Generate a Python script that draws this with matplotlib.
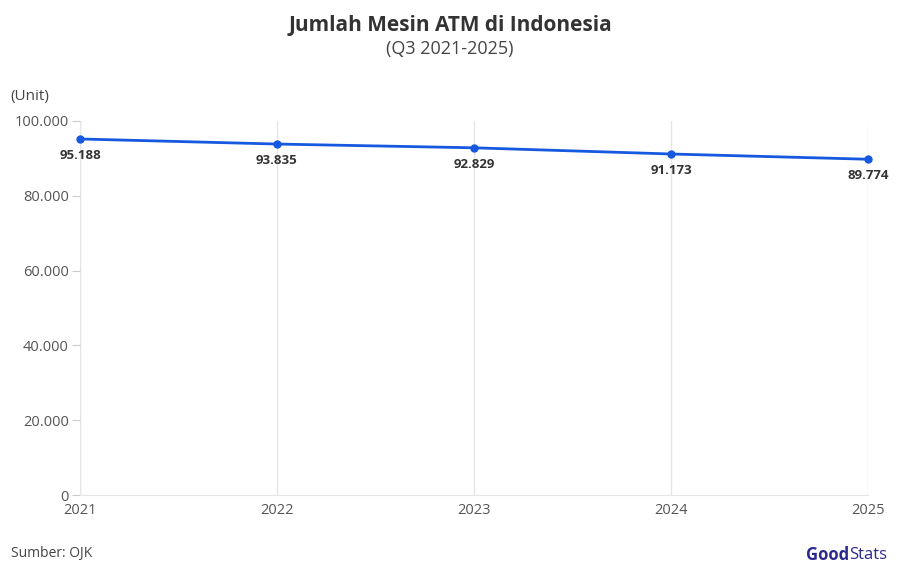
import matplotlib
matplotlib.use("Agg")
import matplotlib.pyplot as plt
from matplotlib.ticker import FuncFormatter

plt.rcParams['font.family'] = ['Open Sans', 'DejaVu Sans']

years = [2021, 2022, 2023, 2024, 2025]
atm = [95188, 93835, 92829, 91173, 89774]
yticks = [0, 20000, 40000, 60000, 80000, 100000]

def fmt(v):
    return f"{int(v):,}".replace(",", ".")

fig = plt.figure(figsize=(9, 5.75), dpi=100)
ax = fig.add_axes([0.0889, 0.1391, 0.8755, 0.6505])
ax.plot(years, atm, color='#1658e0', lw=2, marker='o', ms=5, zorder=3, clip_on=False)
for x, y in zip(years, atm):
    ax.annotate(fmt(y), (x, y), xytext=(0, -7), textcoords='offset points',
                ha='center', va='top', fontsize=9.5, fontweight='bold', color='#333333')
ax.set_xlim(2021, 2025)
ax.set_ylim(0, 100000)
ax.set_xticks(years)
ax.set_yticks(yticks)
ax.yaxis.set_major_formatter(FuncFormatter(lambda v, p: fmt(v)))
ax.grid(axis='x', color='#e6e6e6', lw=1)
ax.grid(axis='y', visible=False)
for s in ['top', 'right', 'left']:
    ax.spines[s].set_visible(False)
ax.spines['bottom'].set_color('#e6e6e6')
ax.tick_params(axis='y', length=6, color='#cccccc', labelsize=10.5, labelcolor='#555555', pad=2)
ax.tick_params(axis='x', length=0, labelsize=10.5, labelcolor='#555555', pad=6)
ax.axvline(2021, color='#e6e6e6', lw=1, zorder=0)

fig.text(0.5, 0.955, 'Jumlah Mesin ATM di Indonesia', ha='center', va='center',
         fontsize=15, fontweight='bold', color='#333333')
fig.text(0.5, 0.915, '(Q3 2021-2025)', ha='center', va='center', fontsize=13, color='#444444')
fig.text(0.012, 0.833, '(Unit)', ha='left', va='center', fontsize=11, color='#444444')
fig.text(0.012, 0.038, 'Sumber: OJK', ha='left', va='center', fontsize=10, color='#444444')
fig.text(0.944, 0.035, 'Good', ha='right', va='center', fontsize=12, fontweight='bold', color='#2b2a8c')
fig.text(0.944, 0.035, 'Stats', ha='left', va='center', fontsize=12, color='#2b2a8c')
fig.savefig('out.png', dpi=100)
